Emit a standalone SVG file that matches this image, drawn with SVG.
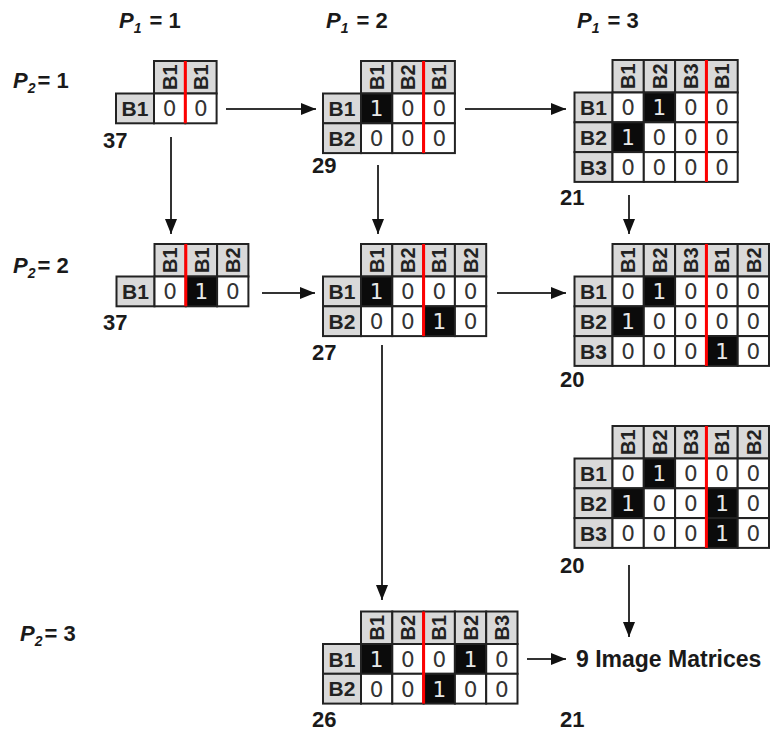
<svg xmlns="http://www.w3.org/2000/svg" width="771" height="734" viewBox="0 0 771 734">
  <style>
    .h { fill: #d9d9d9; stroke: #222; stroke-width: 2; }
    .w { fill: #ffffff; stroke: #222; stroke-width: 2; }
    .k { fill: #0b0b0b; stroke: #222; stroke-width: 2; }
    .red { stroke: #ff0000; stroke-width: 3; }
    .ht { font-family: "Liberation Sans", Arial, sans-serif; font-weight: bold; font-size: 20px; fill: #222; text-anchor: middle; }
    .rl { font-family: "Liberation Sans", Arial, sans-serif; font-weight: bold; font-size: 21px; fill: #222; text-anchor: middle; }
    .z { font-family: "DejaVu Sans", sans-serif; font-size: 21.5px; fill: #333; text-anchor: middle; }
    .o { font-family: "DejaVu Sans", sans-serif; font-size: 21.5px; fill: #e8e8e8; text-anchor: middle; }
    .num { font-family: "Liberation Sans", Arial, sans-serif; font-weight: bold; font-size: 22px; fill: #1a1a1a; }
    .pl { font-family: "Liberation Sans", Arial, sans-serif; font-weight: bold; font-size: 22px; fill: #1a1a1a; }
    .big { font-family: "Liberation Sans", Arial, sans-serif; font-weight: bold; font-size: 23px; fill: #1a1a1a; }
    .conn { stroke: #333; stroke-width: 2; fill: none; marker-end: url(#ah); }
  </style>
  <defs>
    <marker id="ah" markerUnits="userSpaceOnUse" markerWidth="16" markerHeight="12" refX="15" refY="6" orient="auto">
      <path d="M0,0 L15,6 L0,12 Z" fill="#111"/>
    </marker>
  </defs>
  <rect width="771" height="734" fill="#ffffff"/>

  <!-- axis labels -->
  <g id="axis-labels">
    <text class="pl" x="119" y="28"><tspan font-style="italic">P</tspan><tspan font-style="italic" font-size="14" dy="5">1</tspan><tspan dy="-5" dx="8">= 1</tspan></text>
    <text class="pl" x="326" y="28"><tspan font-style="italic">P</tspan><tspan font-style="italic" font-size="14" dy="5">1</tspan><tspan dy="-5" dx="8">= 2</tspan></text>
    <text class="pl" x="577" y="28"><tspan font-style="italic">P</tspan><tspan font-style="italic" font-size="14" dy="5">1</tspan><tspan dy="-5" dx="8">= 3</tspan></text>
    <text class="pl" x="13" y="88"><tspan font-style="italic">P</tspan><tspan font-style="italic" font-size="14" dy="5">2</tspan><tspan dy="-5" dx="2">= 1</tspan></text>
    <text class="pl" x="13" y="273"><tspan font-style="italic">P</tspan><tspan font-style="italic" font-size="14" dy="5">2</tspan><tspan dy="-5" dx="2">= 2</tspan></text>
    <text class="pl" x="20" y="641"><tspan font-style="italic">P</tspan><tspan font-style="italic" font-size="14" dy="5">2</tspan><tspan dy="-5" dx="2">= 3</tspan></text>
  </g>

  <!-- connectors -->
  <g id="connectors">
    <line class="conn" x1="226" y1="109" x2="316" y2="109"/>
    <line class="conn" x1="465" y1="109" x2="566" y2="109"/>
    <line class="conn" x1="171" y1="137" x2="171" y2="234"/>
    <line class="conn" x1="378" y1="165" x2="378" y2="234"/>
    <line class="conn" x1="629" y1="195" x2="629" y2="234"/>
    <line class="conn" x1="262" y1="293" x2="315" y2="293"/>
    <line class="conn" x1="497" y1="293" x2="566" y2="293"/>
    <line class="conn" x1="382" y1="345" x2="382" y2="600"/>
    <line class="conn" x1="629" y1="565" x2="629" y2="637"/>
    <line class="conn" x1="527" y1="659" x2="566" y2="659"/>
  </g>

  <!-- P1=1, P2=1 -->
  <g id="m11">
    <g transform="translate(154,61)">
      <rect class="h" x="0" y="0" width="31.3" height="32.5"/>
      <rect class="h" x="31.3" y="0" width="31.3" height="32.5"/>
      <text class="ht" transform="translate(22.8,16.25) rotate(-90)">B1</text>
      <text class="ht" transform="translate(54.1,16.25) rotate(-90)">B1</text>
      <rect class="h" x="-38" y="32.5" width="38" height="29.8"/>
      <text class="rl" x="-19" y="55">B1</text>
      <rect class="w" x="0" y="32.5" width="31.3" height="29.8"/>
      <rect class="w" x="31.3" y="32.5" width="31.3" height="29.8"/>
      <text class="z" x="15.65" y="55.2">0</text>
      <text class="z" x="46.95" y="55.2">0</text>
      <line class="red" x1="31.3" y1="0" x2="31.3" y2="62.3"/>
    </g>
    <text class="num" x="103" y="148">37</text>
  </g>

  <!-- P1=2, P2=1 -->
  <g id="m21">
    <g transform="translate(361,61)">
      <rect class="h" x="0" y="0" width="31.3" height="32.5"/>
      <rect class="h" x="31.3" y="0" width="31.3" height="32.5"/>
      <rect class="h" x="62.6" y="0" width="31.3" height="32.5"/>
      <text class="ht" transform="translate(22.8,16.25) rotate(-90)">B1</text>
      <text class="ht" transform="translate(54.1,16.25) rotate(-90)">B2</text>
      <text class="ht" transform="translate(85.4,16.25) rotate(-90)">B1</text>
      <rect class="h" x="-38" y="32.5" width="38" height="29.8"/>
      <rect class="h" x="-38" y="62.3" width="38" height="29.8"/>
      <text class="rl" x="-19" y="55">B1</text>
      <text class="rl" x="-19" y="84.8">B2</text>
      <rect class="k" x="0" y="32.5" width="31.3" height="29.8"/>
      <rect class="w" x="31.3" y="32.5" width="31.3" height="29.8"/>
      <rect class="w" x="62.6" y="32.5" width="31.3" height="29.8"/>
      <rect class="w" x="0" y="62.3" width="31.3" height="29.8"/>
      <rect class="w" x="31.3" y="62.3" width="31.3" height="29.8"/>
      <rect class="w" x="62.6" y="62.3" width="31.3" height="29.8"/>
      <text class="o" x="15.65" y="55.2">1</text>
      <text class="z" x="46.95" y="55.2">0</text>
      <text class="z" x="78.25" y="55.2">0</text>
      <text class="z" x="15.65" y="85">0</text>
      <text class="z" x="46.95" y="85">0</text>
      <text class="z" x="78.25" y="85">0</text>
      <line class="red" x1="62.6" y1="0" x2="62.6" y2="92.1"/>
    </g>
    <text class="num" x="312" y="173">29</text>
  </g>

  <!-- P1=3, P2=1 -->
  <g id="m31">
    <g transform="translate(612.5,60)">
      <rect class="h" x="0" y="0" width="31.3" height="32.5"/>
      <rect class="h" x="31.3" y="0" width="31.3" height="32.5"/>
      <rect class="h" x="62.6" y="0" width="31.3" height="32.5"/>
      <rect class="h" x="93.9" y="0" width="31.3" height="32.5"/>
      <text class="ht" transform="translate(22.8,16.25) rotate(-90)">B1</text>
      <text class="ht" transform="translate(54.1,16.25) rotate(-90)">B2</text>
      <text class="ht" transform="translate(85.4,16.25) rotate(-90)">B3</text>
      <text class="ht" transform="translate(116.7,16.25) rotate(-90)">B1</text>
      <rect class="h" x="-38" y="32.5" width="38" height="29.8"/>
      <rect class="h" x="-38" y="62.3" width="38" height="29.8"/>
      <rect class="h" x="-38" y="92.1" width="38" height="29.8"/>
      <text class="rl" x="-19" y="55">B1</text>
      <text class="rl" x="-19" y="84.8">B2</text>
      <text class="rl" x="-19" y="114.6">B3</text>
      <rect class="w" x="0" y="32.5" width="31.3" height="29.8"/>
      <rect class="k" x="31.3" y="32.5" width="31.3" height="29.8"/>
      <rect class="w" x="62.6" y="32.5" width="31.3" height="29.8"/>
      <rect class="w" x="93.9" y="32.5" width="31.3" height="29.8"/>
      <rect class="k" x="0" y="62.3" width="31.3" height="29.8"/>
      <rect class="w" x="31.3" y="62.3" width="31.3" height="29.8"/>
      <rect class="w" x="62.6" y="62.3" width="31.3" height="29.8"/>
      <rect class="w" x="93.9" y="62.3" width="31.3" height="29.8"/>
      <rect class="w" x="0" y="92.1" width="31.3" height="29.8"/>
      <rect class="w" x="31.3" y="92.1" width="31.3" height="29.8"/>
      <rect class="w" x="62.6" y="92.1" width="31.3" height="29.8"/>
      <rect class="w" x="93.9" y="92.1" width="31.3" height="29.8"/>
      <text class="z" x="15.65" y="55.2">0</text>
      <text class="o" x="46.95" y="55.2">1</text>
      <text class="z" x="78.25" y="55.2">0</text>
      <text class="z" x="109.55" y="55.2">0</text>
      <text class="o" x="15.65" y="85">1</text>
      <text class="z" x="46.95" y="85">0</text>
      <text class="z" x="78.25" y="85">0</text>
      <text class="z" x="109.55" y="85">0</text>
      <text class="z" x="15.65" y="114.8">0</text>
      <text class="z" x="46.95" y="114.8">0</text>
      <text class="z" x="78.25" y="114.8">0</text>
      <text class="z" x="109.55" y="114.8">0</text>
      <line class="red" x1="93.9" y1="0" x2="93.9" y2="121.9"/>
    </g>
    <text class="num" x="560" y="205">21</text>
  </g>

  <!-- P1=1, P2=2 -->
  <g id="m12">
    <g transform="translate(154.5,244)">
      <rect class="h" x="0" y="0" width="31.3" height="32.5"/>
      <rect class="h" x="31.3" y="0" width="31.3" height="32.5"/>
      <rect class="h" x="62.6" y="0" width="31.3" height="32.5"/>
      <text class="ht" transform="translate(22.8,16.25) rotate(-90)">B1</text>
      <text class="ht" transform="translate(54.1,16.25) rotate(-90)">B1</text>
      <text class="ht" transform="translate(85.4,16.25) rotate(-90)">B2</text>
      <rect class="h" x="-38" y="32.5" width="38" height="29.8"/>
      <text class="rl" x="-19" y="55">B1</text>
      <rect class="w" x="0" y="32.5" width="31.3" height="29.8"/>
      <rect class="k" x="31.3" y="32.5" width="31.3" height="29.8"/>
      <rect class="w" x="62.6" y="32.5" width="31.3" height="29.8"/>
      <text class="z" x="15.65" y="55.2">0</text>
      <text class="o" x="46.95" y="55.2">1</text>
      <text class="z" x="78.25" y="55.2">0</text>
      <line class="red" x1="31.3" y1="0" x2="31.3" y2="62.3"/>
    </g>
    <text class="num" x="103" y="330">37</text>
  </g>

  <!-- P1=2, P2=2 -->
  <g id="m22">
    <g transform="translate(361,244)">
      <rect class="h" x="0" y="0" width="31.3" height="32.5"/>
      <rect class="h" x="31.3" y="0" width="31.3" height="32.5"/>
      <rect class="h" x="62.6" y="0" width="31.3" height="32.5"/>
      <rect class="h" x="93.9" y="0" width="31.3" height="32.5"/>
      <text class="ht" transform="translate(22.8,16.25) rotate(-90)">B1</text>
      <text class="ht" transform="translate(54.1,16.25) rotate(-90)">B2</text>
      <text class="ht" transform="translate(85.4,16.25) rotate(-90)">B1</text>
      <text class="ht" transform="translate(116.7,16.25) rotate(-90)">B2</text>
      <rect class="h" x="-38" y="32.5" width="38" height="29.8"/>
      <rect class="h" x="-38" y="62.3" width="38" height="29.8"/>
      <text class="rl" x="-19" y="55">B1</text>
      <text class="rl" x="-19" y="84.8">B2</text>
      <rect class="k" x="0" y="32.5" width="31.3" height="29.8"/>
      <rect class="w" x="31.3" y="32.5" width="31.3" height="29.8"/>
      <rect class="w" x="62.6" y="32.5" width="31.3" height="29.8"/>
      <rect class="w" x="93.9" y="32.5" width="31.3" height="29.8"/>
      <rect class="w" x="0" y="62.3" width="31.3" height="29.8"/>
      <rect class="w" x="31.3" y="62.3" width="31.3" height="29.8"/>
      <rect class="k" x="62.6" y="62.3" width="31.3" height="29.8"/>
      <rect class="w" x="93.9" y="62.3" width="31.3" height="29.8"/>
      <text class="o" x="15.65" y="55.2">1</text>
      <text class="z" x="46.95" y="55.2">0</text>
      <text class="z" x="78.25" y="55.2">0</text>
      <text class="z" x="109.55" y="55.2">0</text>
      <text class="z" x="15.65" y="85">0</text>
      <text class="z" x="46.95" y="85">0</text>
      <text class="o" x="78.25" y="85">1</text>
      <text class="z" x="109.55" y="85">0</text>
      <line class="red" x1="62.6" y1="0" x2="62.6" y2="92.1"/>
    </g>
    <text class="num" x="312" y="360">27</text>
  </g>

  <!-- P1=3, P2=2 (first) -->
  <g id="m32a">
    <g transform="translate(612.5,244)">
      <rect class="h" x="0" y="0" width="31.3" height="32.5"/>
      <rect class="h" x="31.3" y="0" width="31.3" height="32.5"/>
      <rect class="h" x="62.6" y="0" width="31.3" height="32.5"/>
      <rect class="h" x="93.9" y="0" width="31.3" height="32.5"/>
      <rect class="h" x="125.2" y="0" width="31.3" height="32.5"/>
      <text class="ht" transform="translate(22.8,16.25) rotate(-90)">B1</text>
      <text class="ht" transform="translate(54.1,16.25) rotate(-90)">B2</text>
      <text class="ht" transform="translate(85.4,16.25) rotate(-90)">B3</text>
      <text class="ht" transform="translate(116.7,16.25) rotate(-90)">B1</text>
      <text class="ht" transform="translate(148,16.25) rotate(-90)">B2</text>
      <rect class="h" x="-38" y="32.5" width="38" height="29.8"/>
      <rect class="h" x="-38" y="62.3" width="38" height="29.8"/>
      <rect class="h" x="-38" y="92.1" width="38" height="29.8"/>
      <text class="rl" x="-19" y="55">B1</text>
      <text class="rl" x="-19" y="84.8">B2</text>
      <text class="rl" x="-19" y="114.6">B3</text>
      <rect class="w" x="0" y="32.5" width="31.3" height="29.8"/>
      <rect class="k" x="31.3" y="32.5" width="31.3" height="29.8"/>
      <rect class="w" x="62.6" y="32.5" width="31.3" height="29.8"/>
      <rect class="w" x="93.9" y="32.5" width="31.3" height="29.8"/>
      <rect class="w" x="125.2" y="32.5" width="31.3" height="29.8"/>
      <rect class="k" x="0" y="62.3" width="31.3" height="29.8"/>
      <rect class="w" x="31.3" y="62.3" width="31.3" height="29.8"/>
      <rect class="w" x="62.6" y="62.3" width="31.3" height="29.8"/>
      <rect class="w" x="93.9" y="62.3" width="31.3" height="29.8"/>
      <rect class="w" x="125.2" y="62.3" width="31.3" height="29.8"/>
      <rect class="w" x="0" y="92.1" width="31.3" height="29.8"/>
      <rect class="w" x="31.3" y="92.1" width="31.3" height="29.8"/>
      <rect class="w" x="62.6" y="92.1" width="31.3" height="29.8"/>
      <rect class="k" x="93.9" y="92.1" width="31.3" height="29.8"/>
      <rect class="w" x="125.2" y="92.1" width="31.3" height="29.8"/>
      <text class="z" x="15.65" y="55.2">0</text>
      <text class="o" x="46.95" y="55.2">1</text>
      <text class="z" x="78.25" y="55.2">0</text>
      <text class="z" x="109.55" y="55.2">0</text>
      <text class="z" x="140.85" y="55.2">0</text>
      <text class="o" x="15.65" y="85">1</text>
      <text class="z" x="46.95" y="85">0</text>
      <text class="z" x="78.25" y="85">0</text>
      <text class="z" x="109.55" y="85">0</text>
      <text class="z" x="140.85" y="85">0</text>
      <text class="z" x="15.65" y="114.8">0</text>
      <text class="z" x="46.95" y="114.8">0</text>
      <text class="z" x="78.25" y="114.8">0</text>
      <text class="o" x="109.55" y="114.8">1</text>
      <text class="z" x="140.85" y="114.8">0</text>
      <line class="red" x1="93.9" y1="0" x2="93.9" y2="121.9"/>
    </g>
    <text class="num" x="560" y="387">20</text>
  </g>

  <!-- P1=3, P2=2 (second) -->
  <g id="m32b">
    <g transform="translate(612.5,426)">
      <rect class="h" x="0" y="0" width="31.3" height="32.5"/>
      <rect class="h" x="31.3" y="0" width="31.3" height="32.5"/>
      <rect class="h" x="62.6" y="0" width="31.3" height="32.5"/>
      <rect class="h" x="93.9" y="0" width="31.3" height="32.5"/>
      <rect class="h" x="125.2" y="0" width="31.3" height="32.5"/>
      <text class="ht" transform="translate(22.8,16.25) rotate(-90)">B1</text>
      <text class="ht" transform="translate(54.1,16.25) rotate(-90)">B2</text>
      <text class="ht" transform="translate(85.4,16.25) rotate(-90)">B3</text>
      <text class="ht" transform="translate(116.7,16.25) rotate(-90)">B1</text>
      <text class="ht" transform="translate(148,16.25) rotate(-90)">B2</text>
      <rect class="h" x="-38" y="32.5" width="38" height="29.8"/>
      <rect class="h" x="-38" y="62.3" width="38" height="29.8"/>
      <rect class="h" x="-38" y="92.1" width="38" height="29.8"/>
      <text class="rl" x="-19" y="55">B1</text>
      <text class="rl" x="-19" y="84.8">B2</text>
      <text class="rl" x="-19" y="114.6">B3</text>
      <rect class="w" x="0" y="32.5" width="31.3" height="29.8"/>
      <rect class="k" x="31.3" y="32.5" width="31.3" height="29.8"/>
      <rect class="w" x="62.6" y="32.5" width="31.3" height="29.8"/>
      <rect class="w" x="93.9" y="32.5" width="31.3" height="29.8"/>
      <rect class="w" x="125.2" y="32.5" width="31.3" height="29.8"/>
      <rect class="k" x="0" y="62.3" width="31.3" height="29.8"/>
      <rect class="w" x="31.3" y="62.3" width="31.3" height="29.8"/>
      <rect class="w" x="62.6" y="62.3" width="31.3" height="29.8"/>
      <rect class="k" x="93.9" y="62.3" width="31.3" height="29.8"/>
      <rect class="w" x="125.2" y="62.3" width="31.3" height="29.8"/>
      <rect class="w" x="0" y="92.1" width="31.3" height="29.8"/>
      <rect class="w" x="31.3" y="92.1" width="31.3" height="29.8"/>
      <rect class="w" x="62.6" y="92.1" width="31.3" height="29.8"/>
      <rect class="k" x="93.9" y="92.1" width="31.3" height="29.8"/>
      <rect class="w" x="125.2" y="92.1" width="31.3" height="29.8"/>
      <text class="z" x="15.65" y="55.2">0</text>
      <text class="o" x="46.95" y="55.2">1</text>
      <text class="z" x="78.25" y="55.2">0</text>
      <text class="z" x="109.55" y="55.2">0</text>
      <text class="z" x="140.85" y="55.2">0</text>
      <text class="o" x="15.65" y="85">1</text>
      <text class="z" x="46.95" y="85">0</text>
      <text class="z" x="78.25" y="85">0</text>
      <text class="o" x="109.55" y="85">1</text>
      <text class="z" x="140.85" y="85">0</text>
      <text class="z" x="15.65" y="114.8">0</text>
      <text class="z" x="46.95" y="114.8">0</text>
      <text class="z" x="78.25" y="114.8">0</text>
      <text class="o" x="109.55" y="114.8">1</text>
      <text class="z" x="140.85" y="114.8">0</text>
      <line class="red" x1="93.9" y1="0" x2="93.9" y2="121.9"/>
    </g>
    <text class="num" x="560" y="573">20</text>
  </g>

  <!-- P1=2, P2=3 -->
  <g id="m23">
    <g transform="translate(361,611.5)">
      <rect class="h" x="0" y="0" width="31.3" height="32.5"/>
      <rect class="h" x="31.3" y="0" width="31.3" height="32.5"/>
      <rect class="h" x="62.6" y="0" width="31.3" height="32.5"/>
      <rect class="h" x="93.9" y="0" width="31.3" height="32.5"/>
      <rect class="h" x="125.2" y="0" width="31.3" height="32.5"/>
      <text class="ht" transform="translate(22.8,16.25) rotate(-90)">B1</text>
      <text class="ht" transform="translate(54.1,16.25) rotate(-90)">B2</text>
      <text class="ht" transform="translate(85.4,16.25) rotate(-90)">B1</text>
      <text class="ht" transform="translate(116.7,16.25) rotate(-90)">B2</text>
      <text class="ht" transform="translate(148,16.25) rotate(-90)">B3</text>
      <rect class="h" x="-38" y="32.5" width="38" height="29.8"/>
      <rect class="h" x="-38" y="62.3" width="38" height="29.8"/>
      <text class="rl" x="-19" y="55">B1</text>
      <text class="rl" x="-19" y="84.8">B2</text>
      <rect class="k" x="0" y="32.5" width="31.3" height="29.8"/>
      <rect class="w" x="31.3" y="32.5" width="31.3" height="29.8"/>
      <rect class="w" x="62.6" y="32.5" width="31.3" height="29.8"/>
      <rect class="k" x="93.9" y="32.5" width="31.3" height="29.8"/>
      <rect class="w" x="125.2" y="32.5" width="31.3" height="29.8"/>
      <rect class="w" x="0" y="62.3" width="31.3" height="29.8"/>
      <rect class="w" x="31.3" y="62.3" width="31.3" height="29.8"/>
      <rect class="k" x="62.6" y="62.3" width="31.3" height="29.8"/>
      <rect class="w" x="93.9" y="62.3" width="31.3" height="29.8"/>
      <rect class="w" x="125.2" y="62.3" width="31.3" height="29.8"/>
      <text class="o" x="15.65" y="55.2">1</text>
      <text class="z" x="46.95" y="55.2">0</text>
      <text class="z" x="78.25" y="55.2">0</text>
      <text class="o" x="109.55" y="55.2">1</text>
      <text class="z" x="140.85" y="55.2">0</text>
      <text class="z" x="15.65" y="85">0</text>
      <text class="z" x="46.95" y="85">0</text>
      <text class="o" x="78.25" y="85">1</text>
      <text class="z" x="109.55" y="85">0</text>
      <text class="z" x="140.85" y="85">0</text>
      <line class="red" x1="62.6" y1="0" x2="62.6" y2="92.1"/>
    </g>
    <text class="num" x="312" y="727">26</text>
  </g>

  <!-- summary node -->
  <g id="summary">
    <text class="big" x="576" y="667">9 Image Matrices</text>
    <text class="num" x="560" y="727">21</text>
  </g>
</svg>
